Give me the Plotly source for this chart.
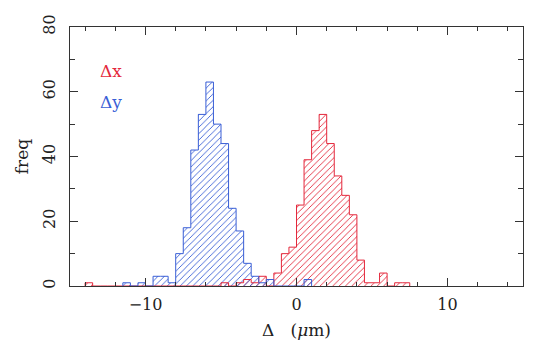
import plotly.graph_objects as go

# ---- data (bin left edges in micrometres, bin width 0.5) ----
bin_width = 0.5
dx_left = [-14.0, -5.0, -4.0, -3.5, -3.0, -2.5, -1.5, -1.0, -0.5, 0.0, 0.5, 1.0, 1.5,
           2.0, 2.5, 3.0, 3.5, 4.0, 4.5, 5.0, 5.5, 6.5, 7.0]
dx_count = [1, 1, 1, 2, 1, 3, 4, 10, 12, 25, 39, 48, 53,
            44, 34, 28, 22, 8, 1, 1, 4, 1, 1]
dy_left = [-11.5, -10.5, -9.5, -9.0, -8.5, -8.0, -7.5, -7.0, -6.5, -6.0, -5.5, -5.0,
           -4.5, -4.0, -3.5, -3.0, -2.5, -2.0, 0.5]
dy_count = [1, 1, 3, 3, 1, 10, 18, 42, 53, 63, 50, 44,
            24, 17, 7, 3, 1, 2, 2]

series_names = ["Δx", "Δy"]
red = "#e4283c"
blue = "#3a5fd6"
x_ticks = [-10, 0, 10]
y_ticks = [0, 20, 40, 60, 80]


def step_outline(lefts, counts, w):
    lo, hi = min(lefts), max(lefts) + w
    n = int(round((hi - lo) / w))
    edges = [lo + i * w for i in range(n + 1)]
    lookup = {round(l, 3): c for l, c in zip(lefts, counts)}
    dense = [lookup.get(round(e, 3), 0) for e in edges[:-1]]
    xs = [edges[0]] + edges[:-1] + [edges[-1]]
    ys = [0] + dense + [0]
    return xs, ys


fig = go.Figure()
for lefts, counts, col, name in [(dx_left, dx_count, red, series_names[0]),
                                 (dy_left, dy_count, blue, series_names[1])]:
    fig.add_trace(go.Bar(
        x=[l + bin_width / 2 for l in lefts], y=counts, width=bin_width,
        marker=dict(color="rgba(0,0,0,0)", line=dict(width=0),
                    pattern=dict(shape="/", fgcolor=col, bgcolor="rgba(0,0,0,0)",
                                 size=4.5, solidity=0.2, fillmode="replace")),
        showlegend=False, name=name))
    xs, ys = step_outline(lefts, counts, bin_width)
    fig.add_trace(go.Scatter(x=xs, y=ys, mode="lines", line=dict(color=col, width=1, shape="hv"),
                             showlegend=False, hoverinfo="skip"))

font_family = "DejaVu Serif"

fig.update_layout(
    width=529, height=342,
    margin=dict(l=62, r=14, t=18.5, b=64, autoexpand=False),
    paper_bgcolor="white", plot_bgcolor="white",
    barmode="overlay", bargap=0,
    font=dict(family=font_family, size=16, color="#222"),
    xaxis=dict(range=[-15, 15], tickvals=x_ticks, ticks="inside", ticklen=8, tickcolor="#333",
               minor=dict(dtick=2, tick0=0, ticks="inside", ticklen=4, tickcolor="#333"),
               showline=True, linecolor="#333", linewidth=1, mirror="allticks",
               showgrid=False, zeroline=False, automargin=False, ticklabelstandoff=4,
               title=dict(text="Δ\u00a0\u00a0\u00a0(<i>μ</i>m)", font=dict(size=17), standoff=10)),
    yaxis=dict(range=[0, 80], tickvals=y_ticks, ticks="inside", ticklen=8, tickcolor="#333",
               minor=dict(dtick=10, ticks="inside", ticklen=5, tickcolor="#333"),
               showline=True, linecolor="#333", linewidth=1, mirror="allticks",
               showgrid=False, zeroline=False, tickangle=-90, automargin=False,
               ticklabelstandoff=8,
               title=dict(text="freq", font=dict(size=17), standoff=6)),
    annotations=[
        dict(x=-12.3, y=66.5, xref="x", yref="y", text=series_names[0], showarrow=False,
             font=dict(size=17, color=red, family=font_family)),
        dict(x=-12.3, y=56.8, xref="x", yref="y", text=series_names[1], showarrow=False,
             font=dict(size=17, color=blue, family=font_family)),
    ],
)

fig.write_html("out.html")
